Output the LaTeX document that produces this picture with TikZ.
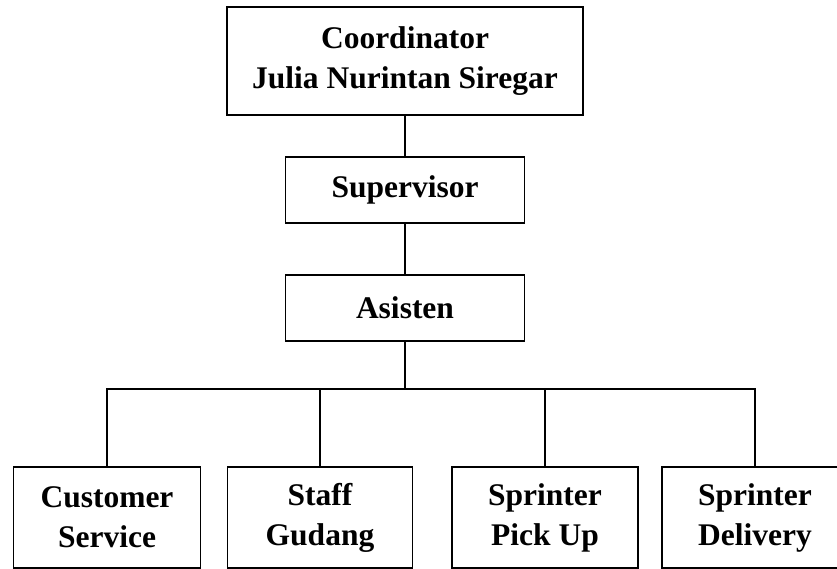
\documentclass[tikz,border=0pt]{standalone}
\usepackage{fontspec}
\setmainfont{Liberation Serif}
\begin{document}
\begin{tikzpicture}[x=1pt,y=-1pt,
  box/.style={draw, line width=1.6pt, rectangle, inner sep=0pt, align=center,
    font=\bfseries\fontsize{31.5}{40}\selectfont},
  conn/.style={line width=1.6pt}]
\useasboundingbox (0,0) rectangle (837,569);
\clip (0,0) rectangle (837,569);
\node[box, minimum width=356, minimum height=108] (coord) at (405,61) {Coordinator\\Julia Nurintan Siregar};
\node[box, minimum width=239, minimum height=66] (sup) at (405,190) {Supervisor};
\node[box, minimum width=239, minimum height=66] (asi) at (405,308) {Asisten};
\node[box, minimum width=187, minimum height=101] (cs) at (107,517.5) {Customer\\Service};
\node[box, minimum width=185, minimum height=101] (sg) at (320,517.5) {Staff\\Gudang};
\node[box, minimum width=186, minimum height=101] (pu) at (545,517.5) {Sprinter\\Pick Up};
\node[box, minimum width=186, minimum height=101] (dl) at (755,517.5) {Sprinter\\Delivery};
\coordinate (bus) at (405,389);
\draw[conn] (coord.south) -- (sup.north);
\draw[conn] (sup.south) -- (asi.north);
\draw[conn] (asi.south) -- (bus);
\draw[conn] (bus) -| (cs.north);
\draw[conn] (bus) -| (sg.north);
\draw[conn] (bus) -| (pu.north);
\draw[conn] (bus) -| (dl.north);
\end{tikzpicture}
\end{document}
